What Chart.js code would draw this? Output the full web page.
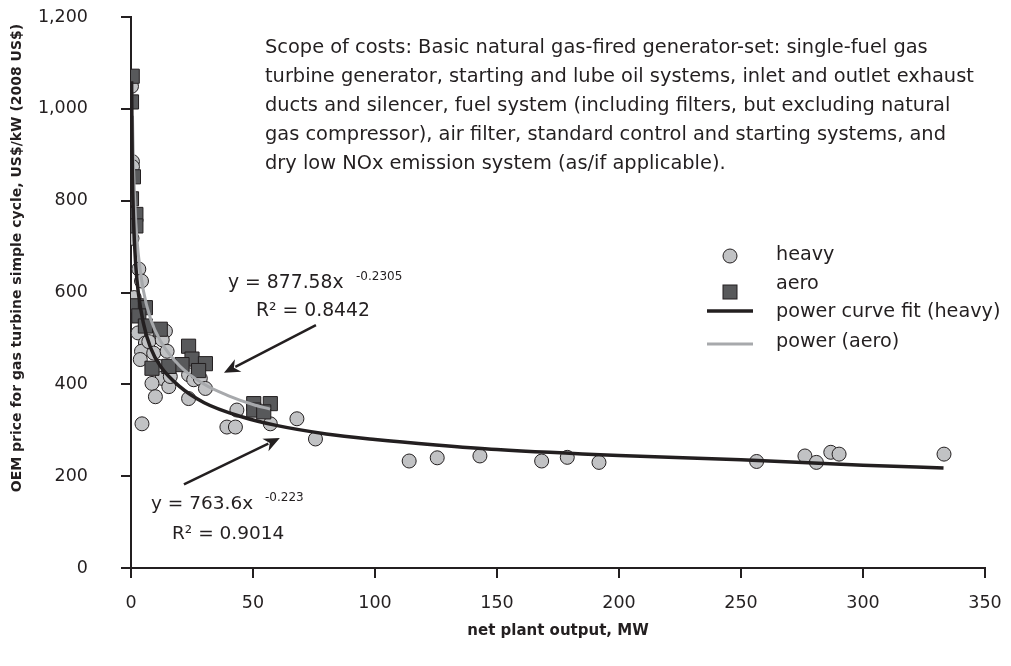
<!DOCTYPE html>
<html>
<head>
<meta charset="utf-8">
<script src="https://cdn.jsdelivr.net/npm/chart.js@4.4.1/dist/chart.umd.min.js"></script>
<style>
  html, body { margin: 0; padding: 0; background: #fff; }
</style>
</head>
<body>
<canvas id="chart" width="1011" height="666"></canvas>
<script>
// heavy-duty gas turbines (circles)
var heavyMW = [0.2, 0.6, 0.6, 0.4, 3.2, 4.3, 1.3, 2.9, 5.9, 4.3, 3.8, 7.3, 9.3, 14.1, 12.8, 14.8,
  11.4, 12.7, 8.6, 15.5, 10, 16.1, 23.6, 25.7, 28.4, 30.5, 23.6, 4.5, 43.4, 39.3, 42.8, 57.1,
  68, 75.6, 114, 125.5, 143, 168.3, 178.8, 191.8, 256.4, 276.2, 280.9, 286.8, 290.2, 333.2];
var heavyPrice = [1049, 885, 874, 718, 651, 625, 589, 512, 490, 472, 454, 493, 468, 516, 497, 472,
  439, 413, 402, 395, 373, 417, 421, 410, 413, 391, 369, 314, 344, 307, 307, 314,
  325, 281, 233, 240, 244, 233, 241, 230, 232, 244, 230, 252, 248, 248];

// aeroderivative gas turbines (squares)
var aeroMW = [0.5, 0.2, 1, 0.2, 2, 2, 2.5, 5.9, 3.2, 5.9, 12, 23.6, 25, 20.9, 30.5, 8.6, 15.5,
  27.7, 50.3, 57.1, 50.3, 54.4];
var aeroPrice = [1071, 1015, 852, 804, 770, 745, 571, 567, 549, 527, 520, 483, 455, 443, 445, 435, 439,
  430, 358, 358, 344, 340];

// fitted curves
var heavyFitMW = [0.25, 0.5, 1, 2, 3, 5, 8, 12, 20, 30, 45, 60, 80, 100, 125, 150, 200, 250, 300, 333];
var heavyFitPrice = [1060, 890, 765, 655, 600, 535, 480, 440, 395, 360, 330, 310, 292, 280, 268, 258, 245, 236, 224, 218];
var aeroFitMW = [0.6, 1, 2, 3, 5, 8, 12, 20, 30, 40, 50, 57];
var aeroFitPrice = [985, 878, 750, 683, 606, 543, 495, 440, 400, 375, 356, 346];

var xTicks = [0, 50, 100, 150, 200, 250, 300, 350];
var yTicks = [0, 200, 400, 600, 800, 1000, 1200];

var yTitle = 'OEM price for gas turbine simple cycle, US$/kW (2008 US$)';
var scopeText = [
  'Scope of costs: Basic natural gas-fired generator-set: single-fuel gas',
  'turbine generator, starting and lube oil systems, inlet and outlet exhaust',
  'ducts and silencer, fuel system (including filters, but excluding natural',
  'gas compressor), air filter, standard control and starting systems, and',
  'dry low NOx emission system (as/if applicable).'
];

var ink = '#231f20';
var lightGrey = '#c1c2c4';
var darkGrey = '#58595b';
var lineGrey = '#a7a9ac';
var FONT = '"DejaVu Sans", sans-serif';

function pts(xs, ys) {
  return xs.map(function(x, i) { return { x: x, y: ys[i] }; });
}

// arrow ends in data units (MW, US$/kW)
var aeroArrow = [[75.8, 529], [38.1, 425]];
var heavyArrow = [[21.7, 182], [61, 283]];

function drawArrow(ctx, chart, a) {
  var xs = chart.scales.x, ys = chart.scales.y;
  var x1 = xs.getPixelForValue(a[0][0]), y1 = ys.getPixelForValue(a[0][1]);
  var x2 = xs.getPixelForValue(a[1][0]), y2 = ys.getPixelForValue(a[1][1]);
  var ang = Math.atan2(y2 - y1, x2 - x1);
  var len = 16, half = 7;
  ctx.strokeStyle = ink;
  ctx.fillStyle = ink;
  ctx.lineWidth = 2.5;
  ctx.beginPath();
  ctx.moveTo(x1, y1);
  ctx.lineTo(x2 - Math.cos(ang) * len * 0.8, y2 - Math.sin(ang) * len * 0.8);
  ctx.stroke();
  ctx.beginPath();
  ctx.moveTo(x2, y2);
  ctx.lineTo(x2 - Math.cos(ang) * len + Math.sin(ang) * half, y2 - Math.sin(ang) * len - Math.cos(ang) * half);
  ctx.lineTo(x2 - Math.cos(ang) * len * 0.7, y2 - Math.sin(ang) * len * 0.7);
  ctx.lineTo(x2 - Math.cos(ang) * len - Math.sin(ang) * half, y2 - Math.sin(ang) * len + Math.cos(ang) * half);
  ctx.closePath();
  ctx.fill();
}

var notes = {
  id: 'notes',
  afterDatasetsDraw: function(chart) {
    var ctx = chart.ctx;
    ctx.save();
    ctx.fillStyle = ink;
    ctx.textBaseline = 'middle';
    ctx.textAlign = 'left';

    // scope box text
    ctx.font = '19.4px ' + FONT;
    scopeText.forEach(function(t, i) { ctx.fillText(t, 265, 48 + i * 29); });

    // aero equation
    ctx.font = '18.8px ' + FONT;
    ctx.fillText('y = 877.58x', 228, 283);
    ctx.fillText('R\u00b2 = 0.8442', 256, 311);
    ctx.font = '12px ' + FONT;
    ctx.fillText('-0.2305', 356, 277);

    // heavy equation
    ctx.font = '18.5px ' + FONT;
    ctx.fillText('y = 763.6x', 151, 504);
    ctx.fillText('R\u00b2 = 0.9014', 172, 534);
    ctx.font = '12px ' + FONT;
    ctx.fillText('-0.223', 265, 498);

    drawArrow(ctx, chart, aeroArrow);
    drawArrow(ctx, chart, heavyArrow);

    // legend
    var ds = chart.data.datasets;
    ctx.font = '19.2px ' + FONT;
    ctx.fillStyle = ink;
    ctx.fillText(ds[3].label, 776, 255);
    ctx.fillText(ds[2].label, 776, 284);
    ctx.fillText(ds[0].label, 776, 312);
    ctx.fillText(ds[1].label, 776, 342);

    ctx.lineWidth = 1;
    ctx.strokeStyle = ink;
    ctx.fillStyle = ds[3].backgroundColor;
    ctx.beginPath(); ctx.arc(730, 256, 7, 0, Math.PI * 2); ctx.fill(); ctx.stroke();
    ctx.fillStyle = ds[2].backgroundColor;
    ctx.fillRect(723, 285, 14, 14); ctx.strokeRect(723, 285, 14, 14);

    ctx.lineWidth = 3.5;
    ctx.strokeStyle = ds[0].borderColor;
    ctx.beginPath(); ctx.moveTo(707, 311); ctx.lineTo(753, 311); ctx.stroke();
    ctx.lineWidth = 3;
    ctx.strokeStyle = ds[1].borderColor;
    ctx.beginPath(); ctx.moveTo(707, 344); ctx.lineTo(753, 344); ctx.stroke();

    // y axis title (sits a little above the axis centre in the original)
    ctx.fillStyle = ink;
    ctx.font = 'bold 14px ' + FONT;
    ctx.textAlign = 'center';
    ctx.translate(17, 258);
    ctx.rotate(-Math.PI / 2);
    ctx.fillText(yTitle, 0, 0);

    ctx.restore();
  }
};

new Chart(document.getElementById('chart'), {
  type: 'scatter',
  data: {
    datasets: [
      {
        label: 'power curve fit (heavy)', type: 'line', data: pts(heavyFitMW, heavyFitPrice),
        borderColor: ink, borderWidth: 3.5, pointRadius: 0, fill: false,
        cubicInterpolationMode: 'monotone', order: 0
      },
      {
        label: 'power (aero)', type: 'line', data: pts(aeroFitMW, aeroFitPrice),
        borderColor: lineGrey, borderWidth: 3, pointRadius: 0, fill: false,
        cubicInterpolationMode: 'monotone', order: 1
      },
      {
        label: 'aero', data: pts(aeroMW, aeroPrice), pointStyle: 'rect', pointRadius: 10,
        backgroundColor: darkGrey, borderColor: ink, borderWidth: 1, order: 2
      },
      {
        label: 'heavy', data: pts(heavyMW, heavyPrice), pointStyle: 'circle', pointRadius: 7,
        backgroundColor: lightGrey, borderColor: ink, borderWidth: 1, order: 3
      }
    ]
  },
  options: {
    responsive: false,
    animation: false,
    layout: { padding: { top: 17, right: 26, left: 0, bottom: 0 } },
    plugins: { legend: { display: false }, tooltip: { enabled: false } },
    scales: {
      x: {
        type: 'linear', min: 0, max: 350,
        afterBuildTicks: function(s) { s.ticks = xTicks.map(function(v) { return { value: v }; }); },
        afterFit: function(s) { s.height = 98; s.paddingLeft = 10; s.paddingRight = 10; },
        ticks: { color: ink, font: { size: 17.5, family: FONT }, padding: 15 },
        grid: { drawOnChartArea: false, drawTicks: true, tickLength: 10, color: ink, lineWidth: 2 },
        border: { display: true, color: ink, width: 2 },
        title: {
          display: true, text: 'net plant output, MW', color: ink,
          font: { size: 15, weight: 'bold', family: FONT }, padding: { top: 0, bottom: 26 }
        }
      },
      y: {
        type: 'linear', min: 0, max: 1200,
        afterBuildTicks: function(s) { s.ticks = yTicks.map(function(v) { return { value: v }; }); },
        afterFit: function(s) { s.width = 131; s.paddingTop = 10; s.paddingBottom = 10; },
        ticks: { color: ink, font: { size: 17.5, family: FONT }, padding: 33 },
        grid: { drawOnChartArea: false, drawTicks: true, tickLength: 10, color: ink, lineWidth: 2 },
        border: { display: true, color: ink, width: 2 },
        title: { display: false }
      }
    }
  },
  plugins: [notes]
});
</script>
</body>
</html>
